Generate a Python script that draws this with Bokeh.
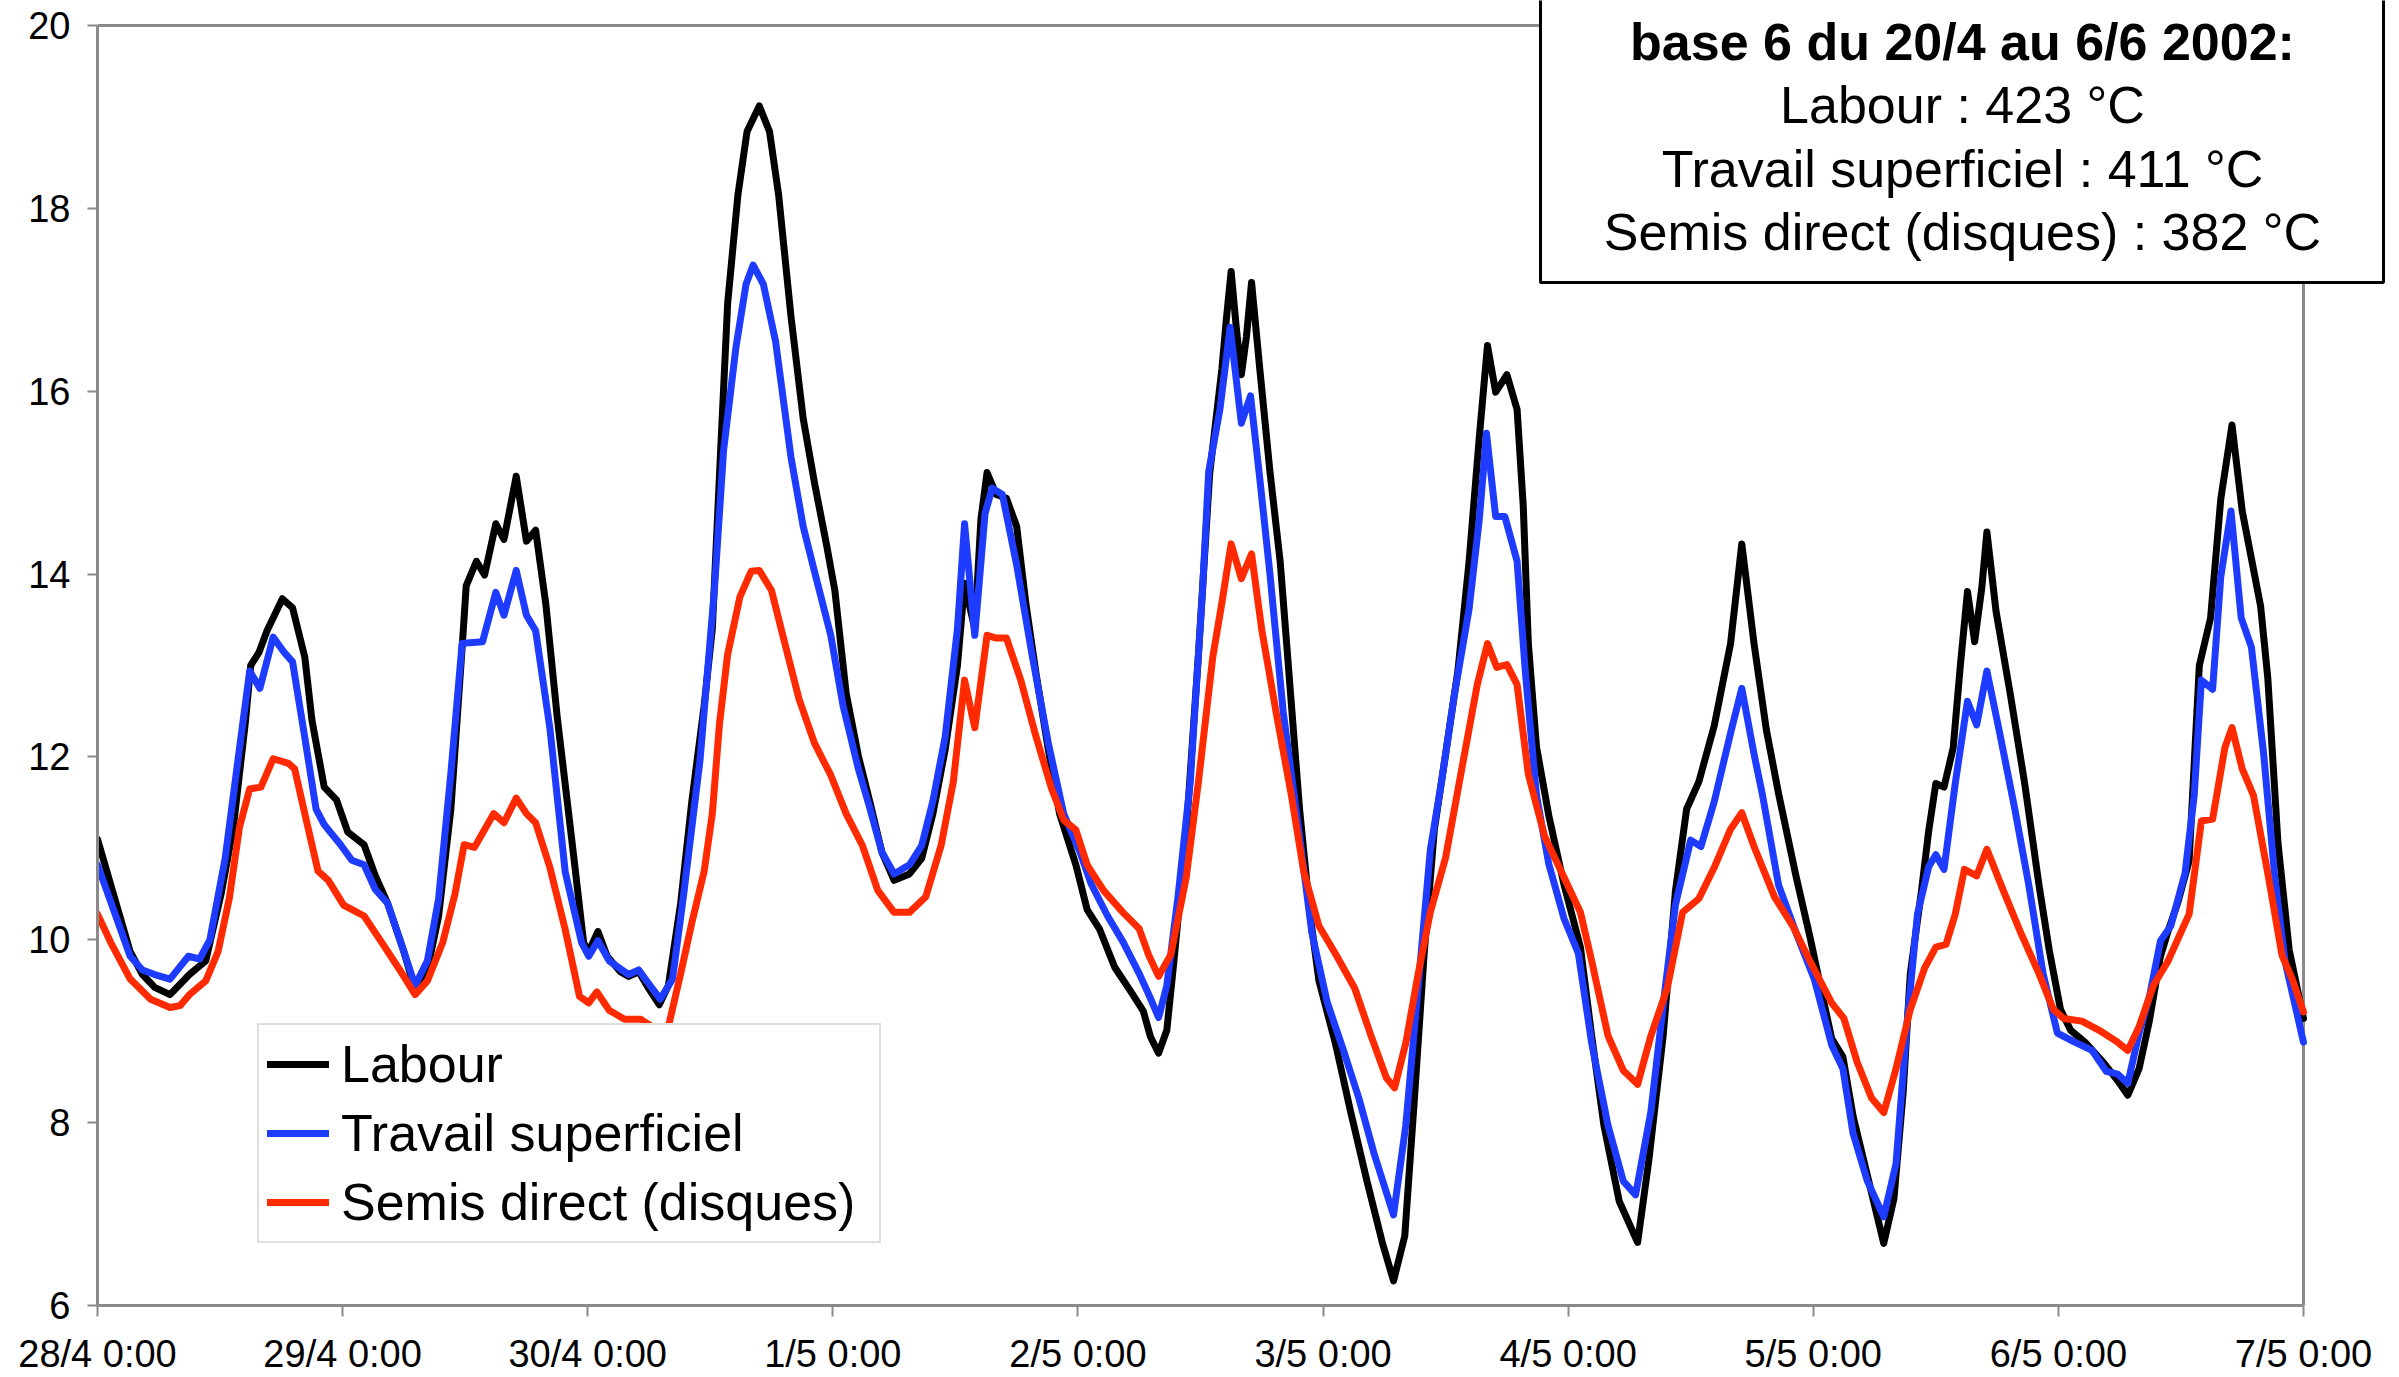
from bokeh.plotting import figure
from bokeh.models import (Range1d, FixedTicker, Legend, LegendItem,
                          BoxAnnotation, Label)
from bokeh.embed import file_html
from bokeh.resources import INLINE

# ---------------- data ----------------
x_tick_hours = [0, 24, 48, 72, 96, 120, 144, 168, 192, 216]
x_tick_labels = ["28/4 0:00", "29/4 0:00", "30/4 0:00", "1/5 0:00", "2/5 0:00",
                 "3/5 0:00", "4/5 0:00", "5/5 0:00", "6/5 0:00", "7/5 0:00"]
y_ticks = [6, 8, 10, 12, 14, 16, 18, 20]

series_names = ["Labour", "Travail superficiel", "Semis direct (disques)"]
box_title = "base 6 du 20/4 au 6/6 2002:"
degree_days = [423, 411, 382]

# hours since 28/4 0:00 and soil temperature (°C)
labour_h = [0, 3.2, 4.4, 5.6, 7.1, 9.0, 10.6, 12.1, 13.3, 14.5, 15.0, 15.8, 16.6, 18.1, 19.1, 20.3,
            21.0, 22.2, 23.4, 24.5, 26.1, 27.2, 28.4, 30.0, 31.1, 32.3, 33.4, 34.6, 35.7, 36.1, 37.1,
            37.9, 39.0, 39.8, 41.0, 42.0, 42.9, 43.9, 45.0, 46.6, 47.6, 48.1, 49.0, 49.9, 51.2, 52.0,
            53.0, 53.9, 55.0, 55.9, 57.1, 58.2, 59.4, 60.2, 60.9, 61.7, 62.7, 63.6, 64.8, 65.8, 66.7,
            67.9, 69.1, 70.2, 71.4, 72.2, 73.3, 74.5, 75.6, 76.8, 78.0, 79.5, 80.7, 81.8, 83.0, 84.2,
            84.9, 85.9, 86.5, 87.1, 88.0, 89.0, 90.0, 90.9, 91.9, 93.1, 94.2, 95.8, 96.9, 98.1, 99.6,
            101.2, 102.4, 103.1, 103.9, 104.7, 105.4, 106.6, 107.8, 108.9, 110.1, 110.5, 111.0, 111.5,
            112.0, 112.5, 113.0, 113.8, 114.8, 115.8, 116.7, 117.7, 118.7, 119.6, 121.2, 122.7, 124.3,
            125.8, 126.9, 128.0, 128.9, 129.9, 130.9, 132.0, 133.2, 134.3, 135.3, 136.1, 136.9, 138.0,
            139.0, 139.6, 140.1, 140.9, 142.1, 143.6, 145.2, 146.3, 147.5, 149.0, 150.8, 151.9, 153.3,
            154.5, 155.6, 156.8, 158.3, 159.9, 161.0, 162.2, 163.4, 164.6, 166.3, 167.7, 168.8, 169.8,
            170.9, 171.9, 173.3, 174.9, 175.9, 176.8, 177.5, 178.6, 179.3, 180.0, 180.8, 181.7, 182.4,
            183.1, 183.8, 184.5, 185.0, 185.9, 187.3, 188.7, 190.1, 191.1, 192.2, 193.2, 194.6, 196.4,
            197.8, 198.8, 199.9, 200.9, 202.0, 202.7, 203.7, 204.8, 205.8, 206.9, 207.9, 209.0, 210.0,
            211.8, 212.5, 213.5, 214.6, 216.0]
labour_t = [11.1, 9.87, 9.62, 9.48, 9.40, 9.62, 9.77, 10.5, 11.23, 12.4, 13.0, 13.14, 13.38, 13.73, 13.63, 13.09,
            12.4, 11.67, 11.53, 11.18, 11.04, 10.7, 10.4, 9.87, 9.45, 9.67, 10.26, 11.43, 13.19, 13.87, 14.14,
            13.99, 14.55, 14.38, 15.07, 14.36, 14.48, 13.67, 12.45, 10.94, 9.97, 9.87, 10.09, 9.82, 9.65, 9.6,
            9.65, 9.48, 9.29, 9.5, 10.4, 11.52, 12.56, 13.4, 15.08, 16.96, 18.14, 18.84, 19.12, 18.84, 18.14,
            16.82, 15.7, 15.0, 14.31, 13.82, 12.7, 12.01, 11.52, 10.96, 10.65, 10.72, 10.89, 11.38, 12.08, 13.0,
            13.9, 13.4, 14.6, 15.11, 14.87, 14.83, 14.52, 13.68, 12.91, 12.08, 11.38, 10.82, 10.33, 10.12, 9.7,
            9.43, 9.22, 8.94, 8.76, 9.01, 9.77, 11.17, 13.12, 15.1, 16.25, 16.75, 17.31, 16.7,
            16.18, 16.6, 17.19, 16.25, 15.12, 14.14, 12.86, 11.43, 10.3, 9.55, 8.87, 8.12, 7.36,
            6.69, 6.27, 6.76, 8.19, 9.85, 11.21, 12.03, 12.94, 14.14, 15.5, 16.5, 15.99, 16.18,
            15.8, 14.75, 13.24, 12.11, 11.36, 10.6, 9.92, 8.95, 7.97, 7.14, 6.69, 7.59, 8.95,
            10.53, 11.43, 11.73, 12.34, 13.24, 14.33, 13.24, 12.3, 11.6, 10.7, 10.02, 9.44, 8.92,
            8.72, 8.07, 7.42, 6.68, 7.17, 8.33, 9.63, 10.54, 11.19, 11.71, 11.67, 12.1, 13.0,
            13.81, 13.26, 13.85, 14.46, 13.59, 12.68, 11.71, 10.6, 9.89, 9.24, 9.01, 8.88, 8.66,
            8.46, 8.3, 8.59, 9.11, 9.82, 10.08, 10.41, 10.86, 13.0, 13.52, 14.82, 15.63, 14.69,
            13.65, 12.87, 11.06, 9.89, 9.14]

travail_h = [0, 3.2, 4.4, 5.6, 7.1, 8.9, 10.0, 11.0, 12.5, 13.7, 14.9, 15.9, 17.2, 18.3, 19.1, 20.3,
             21.4, 22.2, 23.8, 24.9, 26.1, 27.2, 28.4, 30.0, 31.1, 32.3, 33.4, 34.6, 35.7, 36.5, 37.7,
             39.0, 39.8, 41.0, 42.0, 42.9, 44.3, 45.8, 47.4, 48.1, 49.0, 50.1, 52.0, 53.0, 53.9, 55.1,
             56.3, 57.4, 59.0, 60.4, 61.3, 62.5, 63.5, 64.2, 65.2, 66.4, 67.9, 69.1, 70.2, 71.8, 73.0,
             74.5, 75.6, 76.8, 78.0, 79.5, 80.7, 81.8, 83.0, 84.2, 84.9, 85.9, 86.9, 87.6, 88.6, 90.0,
             91.5, 93.1, 94.6, 96.2, 97.3, 98.9, 100.4, 102.0, 103.1, 103.9, 104.7, 105.8, 107.0, 108.2,
             108.8, 109.9, 110.9, 112.0, 112.9, 113.8, 114.8, 116.1, 117.7, 118.9, 120.4, 122.0, 123.5,
             125.0, 126.9, 128.1, 129.3, 130.5, 131.6, 132.8, 134.3, 135.3, 136.0, 136.9, 137.8, 139.0,
             139.8, 140.9, 142.1, 143.6, 145.0, 146.3, 147.9, 149.4, 150.6, 152.1, 153.5, 154.5, 156.0,
             157.0, 158.3, 159.9, 161.0, 162.2, 163.0, 164.6, 166.3, 168.1, 169.8, 170.9, 171.9, 173.3,
             174.9, 176.1, 177.2, 178.2, 179.3, 180.0, 180.8, 181.9, 183.1, 184.0, 185.0, 186.2, 187.7,
             189.1, 190.5, 191.9, 193.6, 195.3, 196.7, 197.8, 198.8, 199.9, 200.9, 202.0, 203.0, 204.4,
             205.3, 206.0, 207.1, 207.9, 208.9, 209.9, 210.9, 212.1, 213.2, 214.2, 216.0]
travail_t = [10.82, 9.82, 9.67, 9.62, 9.57, 9.82, 9.79, 10.0, 10.89, 11.92, 12.94, 12.75, 13.31, 13.14, 13.04, 12.21,
             11.43, 11.26, 11.04, 10.87, 10.82, 10.55, 10.4, 9.87, 9.50, 9.77, 10.45, 11.82, 13.24, 13.25, 13.26,
             13.80, 13.55, 14.04, 13.55, 13.38, 12.31, 10.74, 9.97, 9.82, 9.99, 9.77, 9.62, 9.67, 9.53, 9.35,
             9.57, 10.5, 11.97, 13.82, 15.35, 16.47, 17.17, 17.38, 17.17, 16.54, 15.28, 14.52, 14.03, 13.33, 12.56,
             11.87, 11.45, 10.96, 10.72, 10.82, 11.03, 11.52, 12.22, 13.4, 14.55, 13.33, 14.66, 14.94, 14.87, 14.1,
             13.12, 12.15, 11.38, 10.96, 10.61, 10.26, 9.98, 9.63, 9.36, 9.15, 9.5, 10.47, 11.73, 13.82,
             15.12, 15.8, 16.7, 15.65, 15.95, 15.05, 14.0, 12.49, 11.13, 10.08, 9.32, 8.79, 8.27,
             7.66, 6.99, 7.97, 9.47, 10.98, 11.73, 12.64, 13.62, 14.6, 15.54, 14.63, 14.63, 14.14,
             12.94, 11.58, 10.83, 10.23, 9.85, 8.87, 7.97, 7.36, 7.21, 8.12, 9.47, 10.38, 11.09,
             11.02, 11.51, 12.26, 12.75, 12.03, 11.6, 10.6, 10.08, 9.57, 8.85, 8.59, 7.88, 7.36,
             6.97, 7.55, 9.11, 10.28, 10.8, 10.93, 10.77, 11.71, 12.61, 12.35, 12.94, 12.29, 11.45,
             10.6, 9.63, 8.98, 8.88, 8.79, 8.56, 8.53, 8.43, 8.98, 9.37, 9.99, 10.15, 10.73,
             11.58, 12.84, 12.74, 13.97, 14.69, 13.52, 13.2, 12.03, 10.67, 9.76, 8.88]

semis_h = [0, 1.3, 3.2, 5.2, 7.1, 8.1, 9.0, 10.6, 11.8, 12.9, 13.9, 14.9, 16.0, 17.2, 18.7, 19.3,
           20.5, 21.6, 22.6, 24.1, 26.1, 27.6, 29.6, 31.1, 32.3, 33.8, 35.0, 35.9, 36.9, 38.8, 39.8,
           41.0, 42.0, 42.9, 44.3, 45.8, 47.2, 48.1, 48.9, 50.1, 51.6, 53.2, 54.3, 55.2, 55.9, 57.1,
           58.2, 59.4, 60.2, 60.9, 61.7, 62.9, 64.0, 64.8, 66.0, 67.1, 68.7, 70.2, 71.8, 73.3, 74.9,
           76.4, 78.0, 79.5, 81.1, 82.6, 83.8, 84.9, 85.9, 87.1, 88.0, 89.0, 90.4, 91.9, 93.4, 94.6,
           95.8, 96.9, 98.5, 100.4, 102.0, 102.9, 103.9, 105.1, 106.6, 107.8, 109.2, 110.1, 111.0,
           112.0, 113.0, 114.0, 115.4, 116.9, 118.1, 119.6, 121.2, 123.1, 124.7, 126.2, 127.0, 128.1,
           129.3, 130.5, 132.0, 133.6, 135.1, 136.1, 137.0, 138.0, 139.0, 140.1, 141.7, 143.6, 145.2,
           146.3, 147.9, 149.4, 150.8, 152.1, 153.7, 155.2, 156.8, 158.3, 159.9, 161.0, 162.2, 164.2,
           166.0, 167.7, 169.8, 171.0, 172.3, 173.7, 174.9, 176.1, 177.5, 178.9, 180.0, 181.0, 181.9,
           182.8, 184.0, 185.0, 186.6, 188.3, 190.1, 191.5, 192.5, 194.3, 196.0, 197.8, 198.8, 199.9,
           201.3, 202.7, 204.8, 206.0, 207.1, 208.3, 209.0, 210.0, 211.1, 212.5, 213.9, 214.9, 216.0]
semis_t = [10.28, 9.97, 9.57, 9.35, 9.26, 9.28, 9.40, 9.55, 9.87, 10.45, 11.23, 11.65, 11.67, 11.98, 11.93, 11.87,
           11.28, 10.75, 10.65, 10.38, 10.26, 10.01, 9.67, 9.40, 9.55, 9.97, 10.5, 11.04, 11.01, 11.38, 11.28,
           11.55, 11.38, 11.28, 10.79, 10.11, 9.38, 9.31, 9.43, 9.23, 9.13, 9.13, 9.05, 8.9, 9.05, 9.63,
           10.19, 10.75, 11.38, 12.36, 13.12, 13.75, 14.03, 14.04, 13.82, 13.33, 12.63, 12.15, 11.8, 11.38, 11.03,
           10.54, 10.3, 10.3, 10.47, 11.03, 11.73, 12.84, 12.32, 13.33, 13.3, 13.3, 12.84, 12.22, 11.66, 11.31,
           11.2, 10.82, 10.54, 10.3, 10.12, 9.84, 9.6, 9.84, 10.68, 11.73, 13.09, 13.69, 14.33,
           13.95, 14.22, 13.39, 12.49, 11.58, 10.75, 10.15, 9.85, 9.47, 8.95, 8.49, 8.38, 8.87,
           9.62, 10.3, 10.9, 11.88, 12.79, 13.24, 12.98, 13.01, 12.79, 11.81, 11.13, 10.68, 10.3,
           9.77, 8.95, 8.57, 8.42, 8.95, 9.47, 10.3, 10.45, 10.79, 11.21, 11.39, 11.02, 10.47,
           10.15, 9.76, 9.31, 9.14, 8.66, 8.27, 8.11, 8.59, 9.24, 9.69, 9.92, 9.95, 10.28,
           10.77, 10.7, 10.99, 10.54, 10.08, 9.63, 9.24, 9.14, 9.11, 9.01, 8.88, 8.79, 9.05,
           9.5, 9.76, 10.28, 11.3, 11.32, 12.1, 12.32, 11.87, 11.58, 10.73, 9.83, 9.57, 9.21]

# ---------------- layout (pixels) ----------------
W, H = 2399, 1377
FRAME_L, FRAME_B = 97, 1305          # plot area left / bottom edge
AREA_R, AREA_T = 2303, 25            # right / top edge of the data area
FONT = "Liberation Sans"
GRAY = "#8a8a8a"

x0, x1 = x_tick_hours[0], x_tick_hours[-1]
y0, y1 = y_ticks[0], y_ticks[-1]
px_per_h = (AREA_R - FRAME_L) / (x1 - x0)
px_per_deg = (FRAME_B - AREA_T) / (y1 - y0)
# the frame extends to the right and top edges of the canvas, so the text box can sit there
x_end = x1 + (W - AREA_R) / px_per_h
y_end = y1 + AREA_T / px_per_deg

p = figure(width=W, height=H, output_backend="svg", toolbar_location=None,
           x_range=Range1d(x0, x_end), y_range=Range1d(y0, y_end),
           min_border_left=FRAME_L, min_border_right=0, min_border_top=0,
           min_border_bottom=H - FRAME_B)
p.background_fill_color = "white"
p.border_fill_color = "white"
p.outline_line_color = None
p.xgrid.visible = False
p.ygrid.visible = False

p.xaxis.ticker = FixedTicker(ticks=x_tick_hours)
p.xaxis.major_label_overrides = {h: lab for h, lab in zip(x_tick_hours, x_tick_labels)}
p.xaxis.bounds = (x0, x1)
p.yaxis.ticker = FixedTicker(ticks=y_ticks)
p.yaxis.bounds = (y0, y1)

for ax in (p.xaxis[0], p.yaxis[0]):
    ax.axis_line_color = GRAY
    ax.axis_line_width = 3
    ax.major_tick_line_color = GRAY
    ax.major_tick_line_width = 2
    ax.major_tick_in = 0
    ax.minor_tick_line_color = None
    ax.major_label_text_font = FONT
    ax.major_label_text_font_size = "38px"
    ax.major_label_text_color = "black"
p.xaxis.major_tick_out = 11
p.xaxis.major_label_standoff = 16
p.yaxis.major_tick_out = 10
p.yaxis.major_label_standoff = 17

# top and right borders of the plot area
p.line([x0, x1, x1], [y1, y1, y0], line_color=GRAY, line_width=3)

colors = ["#000000", "#1E3CFF", "#FF2A00"]
datasets = [(labour_h, labour_t), (travail_h, travail_t), (semis_h, semis_t)]
renderers = []
for (hh, tt), c in zip(datasets, colors):
    r = p.line(hh, tt, line_color=c, line_width=7, line_join="round", line_cap="round")
    renderers.append(r)

legend = Legend(items=[LegendItem(label=n, renderers=[r]) for n, r in zip(series_names, renderers)],
                location=(160, 62), orientation="vertical",
                label_text_font=FONT, label_text_font_size="52px", label_text_color="black",
                glyph_width=62, glyph_height=62, label_height=62, label_width=530,
                label_standoff=12, spacing=7, padding=8, margin=0,
                border_line_color="#bdbdbd", border_line_width=2,
                background_fill_color="white", background_fill_alpha=1.0)
p.add_layout(legend)

box = BoxAnnotation(left=1443, right=2286, bottom=1023, top=1340,
                    left_units="screen", right_units="screen",
                    top_units="screen", bottom_units="screen",
                    fill_color="white", fill_alpha=1.0,
                    line_color="black", line_alpha=1.0, line_width=3)
p.add_layout(box)

box_lines = [box_title] + [f"{n} : {v} °C" for n, v in zip(series_names, degree_days)]
box_y = [1264, 1201, 1137, 1074]
for i, (txt, yy) in enumerate(zip(box_lines, box_y)):
    p.add_layout(Label(x=1865, y=yy, x_units="screen", y_units="screen", text=txt,
                       text_font=FONT, text_font_size="52px",
                       text_font_style="bold" if i == 0 else "normal",
                       text_align="center", text_baseline="middle", text_color="black"))

open("out.html", "w").write(file_html(p, INLINE))
